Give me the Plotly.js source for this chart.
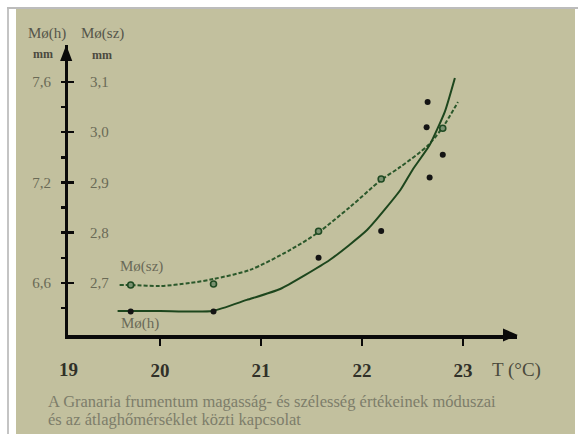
<!DOCTYPE html>
<html>
<head>
<meta charset="utf-8">
<script src="https://cdn.plot.ly/plotly-3.0.1.min.js"></script>
<style>
  html, body { margin: 0; padding: 0; background: #ffffff; width: 578px; height: 434px; overflow: hidden; }
  #frameL { position: absolute; left: 7px; top: 8px; width: 2px; height: 426px; background: #c4c4c4; }
  #frameT { position: absolute; left: 7px; top: 7px; width: 571px; height: 2px; background: #bcbcbc; }
  #panel { position: absolute; left: 16px; top: 9px; width: 559px; height: 425px; background: #c2c09e; }
  #chart { position: absolute; left: 0; top: 0; width: 578px; height: 434px; }
</style>
</head>
<body>
<div id="frameL"></div>
<div id="frameT"></div>
<div id="panel"></div>
<div id="chart"></div>
<script>
// ---- data ----
// width (Mø(sz), mm) observations
const szTemp = [19.71, 20.53, 21.57, 22.19, 22.80];
const szValue = [2.696, 2.698, 2.803, 2.907, 3.008];
// height (Mø(h), mm) observations
const hTemp = [19.71, 20.53, 21.57, 22.19, 22.64, 22.65, 22.67, 22.80];
const hValue = [6.43, 6.43, 6.75, 6.91, 7.42, 7.52, 7.22, 7.31];
// fitted curves
const szCurveTemp = [19.60, 19.71, 20.00, 20.30, 20.53, 20.89, 21.29, 21.57, 21.88, 22.19, 22.38, 22.65, 22.80, 22.95];
const szCurveValue = [2.696, 2.696, 2.694, 2.700, 2.708, 2.726, 2.766, 2.801, 2.851, 2.905, 2.931, 2.973, 3.010, 3.060];
const hCurveTemp = [19.58, 20.00, 20.52, 20.86, 21.19, 21.68, 22.05, 22.38, 22.50, 22.67, 22.82, 22.92];
const hCurveValue = [6.433, 6.433, 6.433, 6.499, 6.564, 6.737, 6.916, 7.155, 7.250, 7.349, 7.481, 7.616];
// axes / tick labels
const xTickVals = [20, 21, 22, 23];
const xTickText = ['20', '21', '22', '23'];
const xOriginLabel = '19';
const szTickVals = [2.7, 2.8, 2.9, 3.0, 3.1];
const szTickText = ['2,7', '2,8', '2,9', '3,0', '3,1'];
const minorTickVals = [2.65, 2.7, 2.75, 2.8, 2.85, 2.9, 2.95, 3.0, 3.05, 3.1];
const hTickVals = [6.6, 7.2, 7.6];      // labels of the left (height) scale
const hTickPos = [2.7, 2.9, 3.1];       // where they sit on the shared vertical scale
const xRange = [19.089, 23.535];
const yRange = [2.5965, 3.1736];

// the left scale of the figure is not linear; map height values onto it piecewise
function hToAxis(h) {
  let i = 0;
  if (h > hTickVals[1]) i = 1;
  const a = hTickVals[i], b = hTickVals[i + 1];
  const pa = hTickPos[i], pb = hTickPos[i + 1];
  return pa + (h - a) * (pb - pa) / (b - a);
}
const hLeftText = minorTickVals.map(v => {
  const k = hTickPos.findIndex(p => Math.abs(p - v) < 1e-9);
  return k >= 0 ? String(hTickVals[k]).replace('.', ',') : '';
});

const serif = 'Liberation Serif, Times New Roman, serif';
const green = '#2b582b';

const traces = [
  { x: szCurveTemp, y: szCurveValue, mode: 'lines', hoverinfo: 'skip',
    line: { color: green, width: 2, dash: '4px,2px', shape: 'spline', smoothing: 0.8 } },
  { x: hCurveTemp, y: hCurveValue.map(hToAxis), yaxis: 'y2', mode: 'lines', hoverinfo: 'skip',
    line: { color: '#1d461d', width: 2, shape: 'spline', smoothing: 0.5 } },
  { x: szTemp, y: szValue, mode: 'markers', cliponaxis: false,
    marker: { size: 6, color: '#7a9170', line: { color: '#1f4a22', width: 1.6 } } },
  { x: hTemp, y: hValue.map(hToAxis), yaxis: 'y2', mode: 'markers', cliponaxis: false,
    marker: { size: 6, color: '#141414' } }
];

const ann = (text, x, y, size, color, extra) => Object.assign({
  text: text, xref: 'paper', yref: 'paper', x: x, y: y, showarrow: false,
  xanchor: 'center', yanchor: 'middle',
  font: { family: serif, size: size, color: color }
}, extra || {});

const layout = {
  width: 578, height: 434,
  margin: { l: 68, r: 61, t: 45, b: 99, pad: 0 },
  paper_bgcolor: 'rgba(0,0,0,0)', plot_bgcolor: 'rgba(0,0,0,0)',
  showlegend: false,
  xaxis: {
    range: xRange, showgrid: false, zeroline: false,
    showline: true, linecolor: '#0a0a0a', linewidth: 3.5,
    ticks: 'outside', ticklen: 7, tickwidth: 2.5, tickcolor: '#0a0a0a',
    tickvals: xTickVals, ticktext: xTickText, ticklabelstandoff: 9,
    tickfont: { family: serif, size: 19, color: '#303028', weight: 'bold' }
  },
  yaxis: {
    range: yRange, showgrid: false, zeroline: false,
    showline: true, linecolor: '#0a0a0a', linewidth: 3.5,
    ticks: 'inside', ticklen: 6, tickwidth: 2.5, tickcolor: '#0a0a0a',
    tickvals: szTickVals, ticktext: szTickText,
    ticklabelposition: 'inside', ticklabelstandoff: 16,
    tickfont: { family: serif, size: 15, color: '#6a6a56' }
  },
  yaxis2: {
    range: yRange, overlaying: 'y', side: 'left', anchor: 'x',
    showgrid: false, zeroline: false, showline: false,
    ticks: 'outside', ticklen: 6, tickwidth: 2.5, tickcolor: '#0a0a0a',
    tickvals: minorTickVals, ticktext: hLeftText, ticklabelstandoff: 7,
    tickfont: { family: serif, size: 15, color: '#6a6a56' }
  },
  shapes: [
    { type: 'path', xref: 'paper', yref: 'paper', path: 'M 1.002 0 L 0.9688 0.022 L 0.9688 -0.022 Z',
      fillcolor: '#0a0a0a', line: { width: 0 } },
    { type: 'path', xref: 'paper', yref: 'paper', path: 'M -0.004 1.0 L -0.0175 0.945 L 0.0095 0.945 Z',
      fillcolor: '#0a0a0a', line: { width: 0 } }
  ],
  annotations: [
    { text: xOriginLabel, xref: 'x', yref: 'paper', x: xRange[0], y: 0, xanchor: 'center', yanchor: 'top', yshift: -22,
      showarrow: false, font: { family: serif, size: 19, color: '#303028', weight: 'bold' } },
    ann('T (°C)', 0.998, -0.121, 19, '#4a4a3c'),
    ann('Mø(h)', -0.047, 1.038, 15, '#55554a'),
    ann('Mø(sz)', 0.076, 1.038, 15, '#55554a'),
    ann('mm', -0.056, 0.968, 12, '#4a4a40', { font: { family: serif, size: 12, color: '#4a4a40', weight: 'bold' } }),
    ann('mm', 0.076, 0.965, 12, '#4a4a40', { font: { family: serif, size: 12, color: '#4a4a40', weight: 'bold' } }),
    ann('Mø(sz)', 0.163, 0.2345, 15, '#6a6a58'),
    ann('Mø(h)', 0.160, 0.038, 15, '#6a6a58'),
    ann('A Granaria frumentum magasság- és szélesség értékeinek móduszai', -0.049, -0.231, 16.5, '#7d7d6a', { xanchor: 'left' }),
    ann('és az átlaghőmérséklet közti kapcsolat', -0.049, -0.293, 16.5, '#7d7d6a', { xanchor: 'left' })
  ]
};

Plotly.newPlot('chart', traces, layout, { staticPlot: true, displayModeBar: false });
</script>
</body>
</html>
